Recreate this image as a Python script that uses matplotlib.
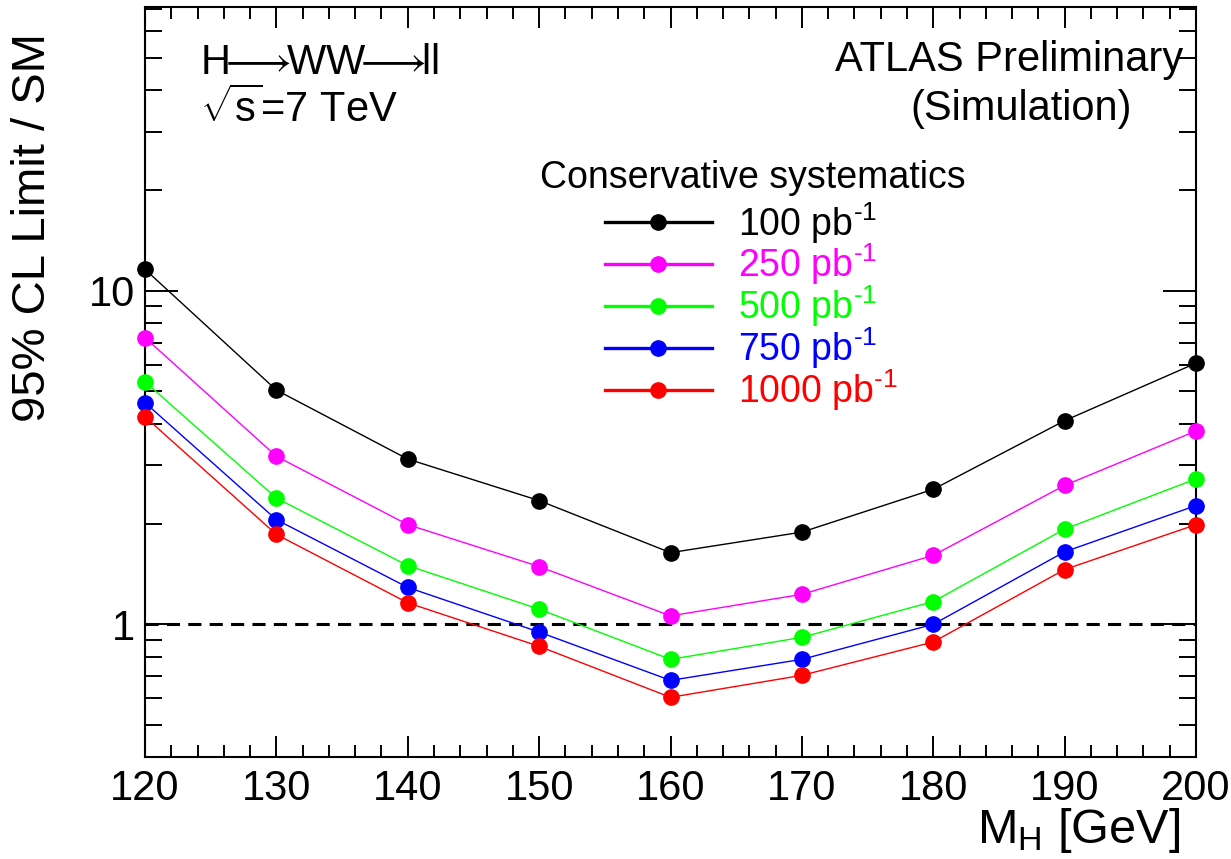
import matplotlib
matplotlib.use("Agg")
import matplotlib.pyplot as plt
from matplotlib.lines import Line2D
from matplotlib.ticker import LogLocator, FuncFormatter, NullFormatter, MultipleLocator

plt.rcParams["font.family"] = ["Liberation Sans", "DejaVu Sans"]
plt.rcParams["mathtext.fontset"] = "custom"
plt.rcParams["mathtext.rm"] = "Liberation Sans"
plt.rcParams["mathtext.it"] = "Liberation Sans:italic"
plt.rcParams["mathtext.bf"] = "Liberation Sans:bold"

# Higgs mass points [GeV]
mass = [120, 130, 140, 150, 160, 170, 180, 190, 200]
# expected 95% CL limit / SM for each integrated luminosity
lim_100 = [11.6, 5.04, 3.13, 2.35, 1.64, 1.89, 2.54, 4.08, 6.07]
lim_250 = [7.24, 3.19, 1.99, 1.49, 1.06, 1.23, 1.61, 2.61, 3.80]
lim_500 = [5.34, 2.39, 1.50, 1.11, 0.785, 0.914, 1.17, 1.93, 2.73]
lim_750 = [4.62, 2.06, 1.29, 0.948, 0.679, 0.785, 1.00, 1.65, 2.27]
lim_1000 = [4.19, 1.86, 1.16, 0.859, 0.604, 0.703, 0.885, 1.46, 1.99]
lumi_labels = ["100", "250", "500", "750", "1000"]
colors = ["black", "#ff00ff", "#00ff00", "#0000ff", "#ff0000"]
sm_line = 1.0

W, H = 1231, 859
fig = plt.figure(figsize=(W / 100, H / 100), dpi=100)
ax = fig.add_axes([145 / W, 1 - 757 / H, (1196 - 145) / W, (757 - 7) / H])

ax.axhline(sm_line, color="black", lw=2.2, ls=(0, (4.3, 2.7)), zorder=2)

handles = []
for ys, c, lab in zip([lim_100, lim_250, lim_500, lim_750, lim_1000], colors, lumi_labels):
    ax.plot(mass, ys, color=c, lw=1.0, marker="o", ms=11, mec=c, mfc=c,
            clip_on=False, zorder=3)
    handles.append(Line2D([], [], color=c, lw=2.4, marker="o", ms=11,
                          label=lab + r" pb$^{\text{-1}}$"))

ax.set_yscale("log")
ax.set_xlim(120, 200)
ax.set_ylim(0.4, 71)
ax.xaxis.set_major_locator(MultipleLocator(10))
ax.xaxis.set_minor_locator(MultipleLocator(2))
ax.yaxis.set_major_locator(LogLocator(base=10))
ax.yaxis.set_minor_locator(LogLocator(base=10, subs=range(2, 10)))
ax.yaxis.set_major_formatter(FuncFormatter(lambda v, p: f"{v:g}"))
ax.yaxis.set_minor_formatter(NullFormatter())

for s in ax.spines.values():
    s.set_linewidth(1.5)
ax.tick_params(which="both", direction="in", top=True, right=True, width=1.4,
               labelsize=30)
ax.tick_params(axis="x", which="major", length=15, pad=9)
ax.tick_params(axis="x", which="minor", length=8.6)
ax.tick_params(axis="y", which="major", length=24, pad=7)
ax.tick_params(axis="y", which="minor", length=12)

fig.text(33 / W, 1 - 33 / H, "95% CL Limit / SM", rotation=90, ha="center",
         va="top", size=34)
fig.text(1180 / W, 1 - 843 / H, r"M$_{\mathregular{H}}$ [GeV]", ha="right",
         va="baseline", size=35)

fig.text(200 / W, 1 - 74 / H,
         r"H$\!\!\longrightarrow\!\!$WW$\!\!\longrightarrow\!\!$ll",
         size=30, va="baseline")
fig.text(200 / W, 1 - 122 / H, r"$\sqrt{\mathregular{s}}$=7 TeV", size=30,
         va="baseline")
fig.text(1183 / W, 1 - 71 / H, "ATLAS Preliminary", ha="right", va="baseline",
         size=30)
fig.text(1021 / W, 1 - 120 / H, "(Simulation)", ha="center", va="baseline",
         size=30)

fig.text(540 / W, 1 - 188 / H, "Conservative systematics", va="baseline", size=27)
leg = ax.legend(handles=handles, loc="upper left",
                bbox_to_anchor=(605 / W, 1 - 200 / H), bbox_transform=fig.transFigure,
                frameon=False, fontsize=27, handlelength=2.85, handletextpad=0.7,
                labelspacing=-0.1, borderpad=0, borderaxespad=0)
for t, c in zip(leg.get_texts(), colors):
    t.set_color(c)

fig.savefig("out.png", dpi=100)
